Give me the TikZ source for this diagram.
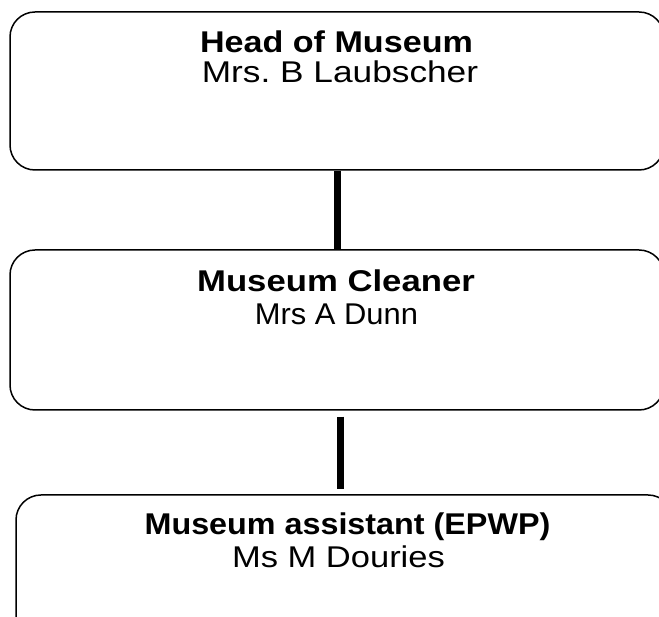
\documentclass[tikz,border=0pt]{standalone}
\usepackage{fontspec}
\setmainfont{Liberation Sans}
\frenchspacing
\begin{document}
\begin{tikzpicture}[x=1pt,y=1pt,
  box/.style={draw=black, line width=1.5pt, rounded corners=25pt, inner sep=0pt},
  conn/.style={draw=black, line width=7pt},
  ttl/.style={anchor=base, inner sep=0pt, font=\fontsize{30}{31}\selectfont\bfseries\addfontfeatures{FakeStretch=#1}},
  sub/.style={anchor=base, inner sep=0pt, font=\fontsize{30}{31}\selectfont\addfontfeatures{FakeStretch=#1}}]
\useasboundingbox (0,0) rectangle (659,617);
\clip (0,0) rectangle (659,617);
\node[box, minimum width=654pt, minimum height=158pt] (b1) at (337,526) {};
\node[box, minimum width=654pt, minimum height=160pt] (b2) at (337,287) {};
\node[box, minimum width=657pt, minimum height=165pt] (b3) at (344.5,39.5) {};
\node[ttl=1.137] (t1a) at (336.5,564) {Head of Museum};
\node[sub=1.175] (t1b) at (340,534) {Mrs. B Laubscher};
\node[ttl=1.157] (t2a) at (336,325) {Museum Cleaner};
\node[sub=1.03] (t2b) at (336.5,292) {Mrs A Dunn};
\node[ttl=1.077] (t3a) at (347.5,82) {Museum assistant (EPWP)};
\node[sub=1.15] (t3b) at (338.5,49) {Ms M Douries};
\draw[conn] ([xshift=0.5pt]b1.south) -- ([xshift=0.5pt]b2.north);
\draw[conn] ([xshift=3pt,yshift=-6pt]b2.south) -- ([xshift=-4.5pt,yshift=5pt]b3.north);
\end{tikzpicture}
\end{document}
